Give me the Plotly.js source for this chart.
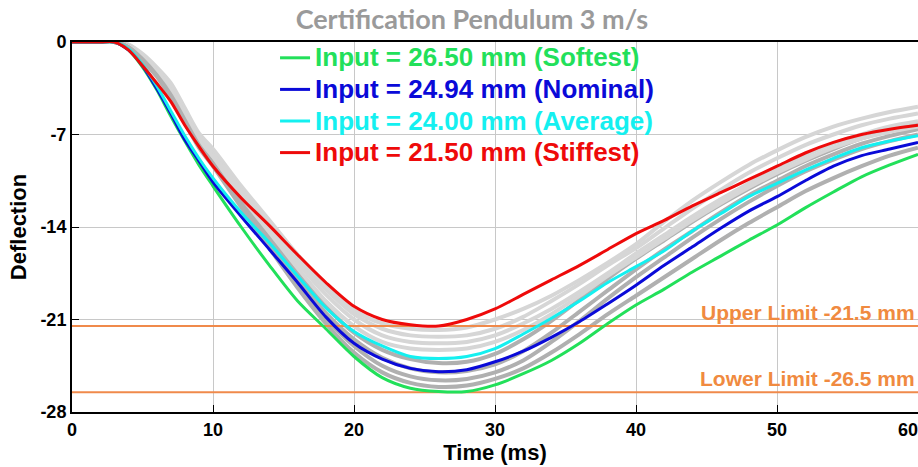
<!DOCTYPE html>
<html>
<head>
<meta charset="utf-8">
<script src="https://cdn.plot.ly/plotly-3.0.1.min.js"></script>
<style>html,body{margin:0;padding:0;background:#fff}#chart{width:918px;height:467px}</style>
</head>
<body>
<div id="chart"></div>
<script>
// Time axis (ms)
const time = [0,2,3,4,5,6,7,8,9,10,12,14,16,18,20,22,24,26,28,30,32,34,36,38,40,42,44,46,48,50,52,54,56,58,60];

// Highlighted inputs
const softest  = [0,0,0,-0.6,-1.9,-3.6,-5.6,-7.5,-9.3,-10.9,-14.0,-16.9,-19.6,-21.7,-23.8,-25.4,-26.2,-26.45,-26.45,-25.95,-25.1,-24.1,-22.8,-21.3,-19.9,-18.7,-17.4,-16.2,-15.0,-13.85,-12.55,-11.35,-10.2,-9.3,-8.5];
const nominal  = [0,0,0,-0.6,-1.8,-3.5,-5.4,-7.4,-9.0,-10.6,-13.2,-15.7,-18.2,-20.8,-22.8,-24.0,-24.7,-24.95,-24.8,-24.2,-23.4,-22.35,-21.15,-19.8,-18.4,-16.9,-15.5,-14.1,-12.8,-11.7,-10.5,-9.4,-8.6,-8.1,-7.6];
const average  = [0,0,0,-0.5,-1.7,-3.3,-5.2,-7.1,-8.8,-10.3,-12.9,-15.2,-17.7,-20.1,-21.9,-23.0,-23.8,-23.95,-23.8,-23.2,-22.1,-20.9,-19.6,-18.2,-17.0,-15.8,-14.3,-13.0,-11.7,-10.7,-9.7,-8.8,-8.0,-7.5,-7.1];
const stiffest = [0,0,0,-0.6,-1.8,-3.1,-4.5,-6.3,-7.9,-9.4,-11.8,-13.9,-16.1,-18.2,-20.0,-21.0,-21.4,-21.5,-21.0,-20.2,-19.1,-18.0,-16.9,-15.7,-14.5,-13.5,-12.4,-11.4,-10.4,-9.4,-8.4,-7.6,-7.0,-6.6,-6.3];

// Other test runs (grey)
const runL1 = [0,0,0,-0.2,-0.9,-1.9,-3.1,-5.0,-6.9,-8.1,-10.9,-13.5,-16.1,-18.3,-20.3,-21.3,-21.7,-21.8,-21.6,-21.0,-20.2,-19.2,-18.0,-16.7,-15.3,-13.6,-12.0,-10.6,-9.3,-8.2,-7.2,-6.4,-5.8,-5.3,-4.9];
const runL2 = [0,0,0,-0.2,-1.0,-2.0,-3.3,-5.2,-7.1,-8.3,-11.2,-13.8,-16.4,-18.7,-20.6,-21.7,-22.2,-22.3,-22.2,-21.7,-20.8,-19.6,-18.3,-16.9,-15.6,-14.1,-12.6,-11.2,-9.9,-8.8,-7.8,-7.0,-6.3,-5.8,-5.4];
const runL3 = [0,0,0,-0.3,-1.0,-2.1,-3.5,-5.4,-7.3,-8.5,-11.4,-14.0,-16.7,-19.1,-21.0,-22.2,-22.7,-22.8,-22.7,-22.2,-21.3,-20.2,-18.9,-17.5,-16.0,-14.6,-13.2,-11.9,-10.7,-9.6,-8.6,-7.7,-7.0,-6.4,-6.0];
const runL4 = [0,0,0,-0.3,-1.1,-2.2,-3.6,-5.5,-7.4,-8.7,-11.7,-14.4,-17.1,-19.6,-21.5,-22.7,-23.2,-23.3,-23.2,-22.7,-21.8,-20.6,-19.2,-17.7,-16.3,-14.9,-13.5,-12.2,-11.0,-9.9,-8.9,-8.0,-7.3,-6.8,-6.4];
const runD1 = [0,0,0,-0.3,-1.1,-2.3,-3.8,-5.7,-7.6,-8.9,-11.9,-14.7,-17.5,-20.0,-22.0,-23.3,-24.0,-24.3,-24.2,-23.6,-22.5,-21.1,-19.5,-17.9,-16.4,-15.0,-13.6,-12.3,-11.1,-10.0,-9.0,-8.1,-7.3,-6.7,-6.2];
const runD2 = [0,0,0,-0.3,-1.2,-2.4,-3.9,-5.8,-7.7,-9.0,-12.1,-15.0,-17.9,-20.5,-22.5,-23.9,-24.7,-25.0,-24.9,-24.4,-23.4,-22.0,-20.4,-18.8,-17.2,-15.7,-14.3,-12.9,-11.6,-10.5,-9.4,-8.5,-7.7,-7.1,-6.6];
const runD3 = [0,0,0,-0.4,-1.3,-2.5,-4.0,-5.9,-7.8,-9.2,-12.3,-15.3,-18.2,-20.9,-23.0,-24.5,-25.3,-25.6,-25.5,-25.0,-24.1,-22.7,-21.1,-19.4,-17.8,-16.3,-14.8,-13.4,-12.1,-10.9,-9.8,-8.9,-8.1,-7.5,-7.0];
const runD4 = [0,0,0,-0.4,-1.4,-2.6,-4.2,-6.1,-8.0,-9.4,-12.5,-15.6,-18.6,-21.3,-23.5,-25.0,-25.8,-26.1,-26.0,-25.5,-24.7,-23.5,-22.1,-20.6,-19.2,-17.8,-16.4,-15.0,-13.7,-12.5,-11.3,-10.3,-9.4,-8.6,-8.0];

// Limits
const limitRange = [0, 60];
const limitValues = [-21.5, -26.5];
const limitLabels = ['Upper Limit -21.5 mm', 'Lower Limit -26.5 mm'];

// Legend labels
const seriesNames = ['Input = 26.50 mm (Softest)', 'Input = 24.94 mm (Nominal)', 'Input = 24.00 mm (Average)', 'Input = 21.50 mm (Stiffest)'];
const seriesColors = ['#22e05a', '#0a0ad8', '#14f0f0', '#ee0a0a'];

const xTicks = [0,10,20,30,40,50,60];
const xTickText = ['0','10','20','30','40','50','60'];
const yTicks = [0,-7,-14,-21,-28];
const yTickText = ['0','-7','-14','-21','-28'];

const lightGrey = '#d6d6d6', darkGrey = '#b0b0b0';
const traces = [];
[[runL1,lightGrey],[runL2,lightGrey],[runD1,darkGrey],[runL3,lightGrey],[runD2,darkGrey],[runL4,lightGrey],[runD3,darkGrey],[runD4,darkGrey]].forEach(([ys,c])=>{
  traces.push({x: time, y: ys, type:'scatter', mode:'lines', line:{color:c, width:4, shape:'spline', smoothing:0.8}, showlegend:false, hoverinfo:'skip'});
});
limitValues.forEach(v=>{
  traces.push({x: limitRange, y: [v, v], type:'scatter', mode:'lines', line:{color:'#f08a4b', width:2}, showlegend:false, hoverinfo:'skip'});
});
[softest, nominal, average, stiffest].forEach((ys,i)=>{
  traces.push({x: time, y: ys, type:'scatter', mode:'lines',
    name: '<span style="color:'+seriesColors[i]+';font-size:26px">'+seriesNames[i]+'</span>',
    line:{color: seriesColors[i], width:3, shape:'spline', smoothing:0.8}});
});

const annotations = limitValues.map((v,i)=>({
  x: 60, y: v, xref:'x', yref:'y', xanchor:'right', yanchor:'bottom', yshift:0, xshift:-1,
  text: limitLabels[i], showarrow:false,
  font:{family:'Liberation Sans, Arial, sans-serif', size:21, weight:'bold', color:'#f08a40'}
}));

// keep the last x tick label inside the page edge
const xTickLabels = xTickText.map((t,i)=> i === xTickText.length-1 ? t + '\u00a0\u00a0\u00a0\u00a0' : t);

const layout = {
  width: 918, height: 467,
  margin: {l:72, r:0, t:42, b:55, pad:0},
  paper_bgcolor:'#ffffff', plot_bgcolor:'#ffffff',
  title: {text:'Certification Pendulum 3 m/s', x:0.514, xanchor:'center', xref:'container', y:0.958, yanchor:'middle', yref:'container',
    font:{family:'Lato, Open Sans, sans-serif', size:27, weight:'bold', color:'#9a9a9a'}},
  xaxis: {range:[0,60], tickvals:xTicks, ticktext:xTickLabels, ticks:'inside', ticklen:7, tickcolor:'#000', tickwidth:1,
    ticklabeloverflow:'allow',
    showline:true, linecolor:'#000', linewidth:2, mirror:true, showgrid:true, gridcolor:'#c8c8c8', gridwidth:1, zeroline:false,
    tickfont:{family:'Liberation Sans, Arial, sans-serif', size:18, weight:'bold', color:'#000'},
    title:{text:'Time (ms)', font:{family:'Liberation Sans, Arial, sans-serif', size:22, weight:'bold', color:'#000'}, standoff:4}},
  yaxis: {range:[-28,0], tickvals:yTicks, ticktext:yTickText, ticks:'inside', ticklen:7, tickcolor:'#000', tickwidth:1,
    showline:true, linecolor:'#000', linewidth:2, showgrid:true, gridcolor:'#c8c8c8', gridwidth:1, zeroline:false,
    tickfont:{family:'Liberation Sans, Arial, sans-serif', size:18, weight:'bold', color:'#000'},
    title:{text:'Deflection', font:{family:'Liberation Sans, Arial, sans-serif', size:22, weight:'bold', color:'#000'}, standoff:8}},
  showlegend: true,
  legend: {x:0.24, xanchor:'left', y:1.0135, yanchor:'top', bgcolor:'rgba(0,0,0,0)', borderwidth:0,
    font:{family:'Liberation Sans, Arial, sans-serif', size:22, weight:'bold', color:'#000'}, itemwidth:30},
  annotations: annotations
};

Plotly.newPlot('chart', traces, layout, {displayModeBar:false, staticPlot:true});
</script>
</body>
</html>
